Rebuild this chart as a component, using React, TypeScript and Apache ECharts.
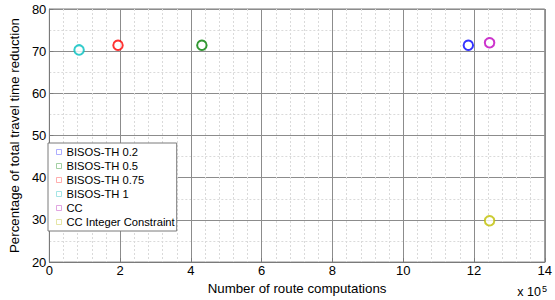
import React, { useEffect, useRef } from "react";
import * as echarts from "echarts";

const seriesNames = [
  "BISOS-TH 0.2",
  "BISOS-TH 0.5",
  "BISOS-TH 0.75",
  "BISOS-TH 1",
  "CC",
  "CC Integer Constraint",
];
const routeComputations = [1184000, 431000, 194000, 84000, 1244000, 1244000];
const travelTimeReduction = [71.4, 71.4, 71.4, 70.3, 72.0, 29.8];
const colors = ["#0000ff", "#008000", "#ff0000", "#00bfbf", "#bf00bf", "#bfbf00"];
const legendColors = ["#9a9aff", "#8cc48c", "#ff9a9a", "#8fdede", "#d98fd9", "#dede8f"];

const FONT = "Liberation Sans, Arial, sans-serif";

export default function App() {
  const ref = useRef<HTMLDivElement>(null);
  useEffect(() => {
    if (!ref.current) return;
    const chart = echarts.init(ref.current, null, { renderer: "svg" });
    chart.setOption({
      animation: false,
      backgroundColor: "#ffffff",
      grid: {
        left: 43,
        right: 8,
        top: 9,
        bottom: 34,
        show: true,
        borderColor: "#7a7a7a",
        borderWidth: 1,
      },
      legend: {
        orient: "vertical",
        left: 48,
        top: 143,
        padding: [2, 2, 2, 8],
        itemGap: 0,
        itemWidth: 5,
        itemHeight: 5,
        backgroundColor: "#ffffff",
        borderColor: "#7a7a7a",
        borderWidth: 1,
        borderRadius: 0,
        textStyle: { fontFamily: FONT, fontSize: 11.2, color: "#000", lineHeight: 14, height: 14 },
        data: seriesNames.map((n, i) => ({
          name: n,
          icon: "rect",
          itemStyle: { color: "rgba(0,0,0,0)", borderColor: legendColors[i], borderWidth: 1 },
        })),
      },
      xAxis: {
        type: "value",
        min: 0,
        max: 1400000,
        interval: 200000,
        name: "Number of route computations",
        nameLocation: "middle",
        nameGap: 15,
        nameTextStyle: { fontFamily: FONT, fontSize: 13.3, color: "#000" },
        axisLine: { show: true, lineStyle: { color: "#7a7a7a" } },
        axisTick: { show: true, inside: true, length: 4, lineStyle: { color: "#7a7a7a" } },
        axisLabel: {
          fontFamily: FONT,
          fontSize: 13,
          color: "#000",
          margin: 2,
          formatter: (v: number) => String(Math.round(v / 100000)),
        },
        splitLine: { show: true, lineStyle: { color: "#8c8c8c", width: 1 } },
        minorTick: { show: false, splitNumber: 5 },
        minorSplitLine: { show: true, lineStyle: { color: "#dadada", type: [2, 2], width: 1 } },
      },
      yAxis: {
        type: "value",
        min: 20,
        max: 80,
        interval: 10,
        name: "Percentage of total travel time reduction",
        nameLocation: "middle",
        nameGap: 26,
        nameTextStyle: { fontFamily: FONT, fontSize: 13.3, color: "#000" },
        axisLine: { show: true, lineStyle: { color: "#7a7a7a" } },
        axisTick: { show: true, inside: true, length: 4, lineStyle: { color: "#7a7a7a" } },
        axisLabel: { fontFamily: FONT, fontSize: 13, color: "#000", margin: 3 },
        splitLine: { show: true, lineStyle: { color: "#8c8c8c", width: 1 } },
        minorTick: { show: false, splitNumber: 2 },
        minorSplitLine: { show: true, lineStyle: { color: "#dadada", type: [2, 2], width: 1 } },
      },
      graphic: [
        {
          type: "text",
          right: 8,
          bottom: 2,
          style: {
            text: "{a|x 10}{b|5}",
            rich: {
              a: { fontFamily: FONT, fontSize: 12.5, fill: "#000", padding: [6, 0, 0, 0] },
              b: { fontFamily: FONT, fontSize: 9, fill: "#000", padding: [0, 0, 0, 1] },
            },
          },
        },
      ],
      series: seriesNames.map((n, i) => ({
        name: n,
        type: "scatter",
        symbol: "emptyCircle",
        symbolSize: 9.5,
        itemStyle: { color: colors[i], borderColor: colors[i], borderWidth: 2 },
        data: [[routeComputations[i], travelTimeReduction[i]]],
        z: 5,
      })),
    });
    return () => chart.dispose();
  }, []);
  return (
    <div
      ref={ref}
      style={{ position: "absolute", left: 0, top: 0, width: 555, height: 300 }}
    />
  );
}
